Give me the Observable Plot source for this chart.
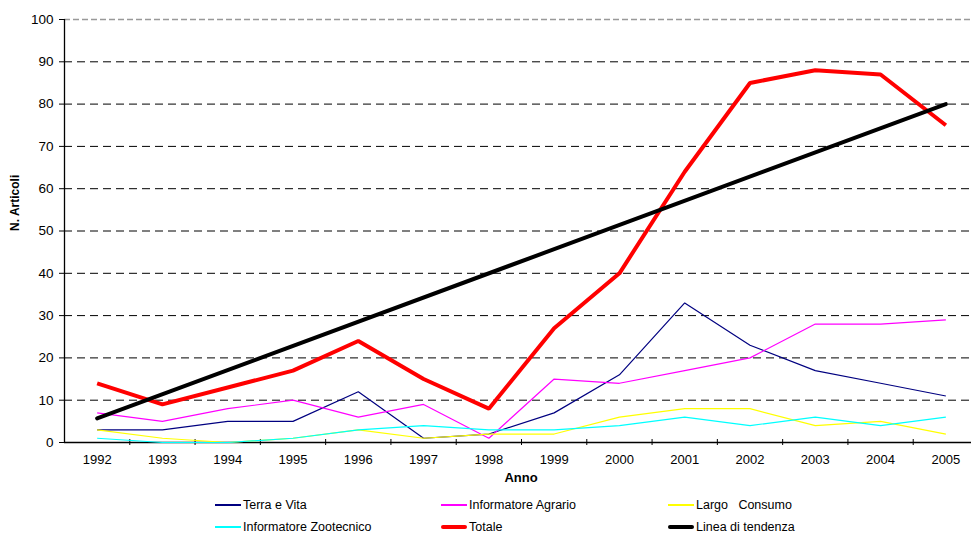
<!DOCTYPE html>
<html>
<head>
<meta charset="utf-8">
<script src="https://cdn.jsdelivr.net/npm/d3@7"></script>
<script src="https://cdn.jsdelivr.net/npm/@observablehq/plot@0.6"></script>
<style>
  html, body { margin: 0; background: #fff; overflow: hidden; }
  #wrap { position: relative; width: 971px; height: 534px; font-family: "Liberation Sans", Arial, sans-serif; }
  .leg { position: absolute; font-size: 12.5px; color: #000; white-space: pre; display: flex; align-items: center; height: 12px; line-height: 12px; }
  .sw { display: inline-block; width: 26px; margin-right: 2px; }
</style>
</head>
<body>
<div id="wrap"></div>
<script>
const years = [1992,1993,1994,1995,1996,1997,1998,1999,2000,2001,2002,2003,2004,2005];
const terraVita = [3,3,5,5,12,1,2,7,16,33,23,17,14,11];
const infoAgrario = [7,5,8,10,6,9,1,15,14,17,20,28,28,29];
const largoConsumo = [3,1,0,1,3,1,2,2,6,8,8,4,5,2];
const infoZootecnico = [1,0,0,1,3,4,3,3,4,6,4,6,4,6];
const totale = [14,9,13,17,24,15,8,27,40,64,85,88,87,75];
const trendYears = [1992, 2005];
const trendValues = [5.7, 80];
const yTicks = [0,10,20,30,40,50,60,70,80,90,100];
const gridDashed = [10,20,30,40,50,60,70,80,90];

const seriesDefs = [
  {name: "Terra e Vita", values: terraVita, color: "#000080", width: 1.2},
  {name: "Informatore Agrario", values: infoAgrario, color: "#FF00FF", width: 1.2},
  {name: "Largo   Consumo", values: largoConsumo, color: "#FFFF00", width: 1.2},
  {name: "Informatore Zootecnico", values: infoZootecnico, color: "#00FFFF", width: 1.2},
  {name: "Totale", values: totale, color: "#FF0000", width: 4}
];
const trendDef = {name: "Linea di tendenza", color: "#000000", width: 4};

const bounds = years.map(y => y - 0.5).concat([years[years.length-1] + 0.5]);

const marks = [
  Plot.ruleY(gridDashed, {stroke: "#000", strokeWidth: 1, strokeDasharray: "8,5"}),
  Plot.ruleY([100], {stroke: "#999", strokeWidth: 1.5, strokeDasharray: "6,3"}),
  Plot.ruleY([0], {stroke: "#000", strokeWidth: 1.3}),
  Plot.ruleX([bounds[0]], {y1: 0, y2: 100, stroke: "#000", strokeWidth: 1.3}),
  Plot.ruleX(bounds.slice(1), {y1: 0, y2: 0, insetTop: -3, insetBottom: -3, stroke: "#000"}),
  Plot.axisY({ticks: yTicks, tickSize: 5, tickPadding: 6, fontSize: 13.5, label: null}),
  Plot.axisX({ticks: years, tickSize: 0, tickPadding: 12, fontSize: 13, label: null, tickFormat: d => String(d)}),
];
for (const s of seriesDefs) {
  marks.push(Plot.line(years.map((y, i) => ({x: y, y: s.values[i]})), {x: "x", y: "y", stroke: s.color, strokeWidth: s.width, strokeLinejoin: "miter", strokeLinecap: "butt"}));
}
marks.push(Plot.line(trendYears.map((y, i) => ({x: y, y: trendValues[i]})), {x: "x", y: "y", stroke: trendDef.color, strokeWidth: trendDef.width, strokeLinecap: "round"}));
marks.push(Plot.text(["N. Articoli"], {frameAnchor: "left", dx: -49, rotate: -90, fontWeight: "bold", fontSize: 12, fill: "#000"}));
marks.push(Plot.text(["Anno"], {frameAnchor: "bottom", dy: 39, dx: 3, fontWeight: "bold", fontSize: 13, fill: "#000"}));

const chart = Plot.plot({
  width: 971,
  height: 492,
  marginTop: 19,
  marginLeft: 64,
  marginRight: 0,
  marginBottom: 50,
  style: {fontFamily: "'Liberation Sans', Arial, sans-serif", background: "#fff", color: "#000"},
  x: {type: "linear", domain: [bounds[0], bounds[bounds.length-1]], range: [64, 978], axis: null},
  y: {domain: [0, 100], axis: null},
  marks
});
const wrap = document.getElementById("wrap");
wrap.appendChild(chart);

const legendItems = seriesDefs.concat([trendDef]);
const legPos = [[215, 505], [441, 505], [668, 505], [215, 527], [441, 527], [668, 527]];
legendItems.forEach((s, i) => {
  const d = document.createElement("div");
  d.className = "leg";
  d.style.left = legPos[i][0] + "px";
  d.style.top = (legPos[i][1] - 6) + "px";
  const sw = document.createElement("span");
  sw.className = "sw";
  sw.style.height = (s.width > 2 ? 4 : 2) + "px";
  sw.style.background = s.color;
  if (s.width > 2) sw.style.borderRadius = "2px";
  d.appendChild(sw);
  d.appendChild(document.createTextNode(s.name));
  wrap.appendChild(d);
});
</script>
</body>
</html>
